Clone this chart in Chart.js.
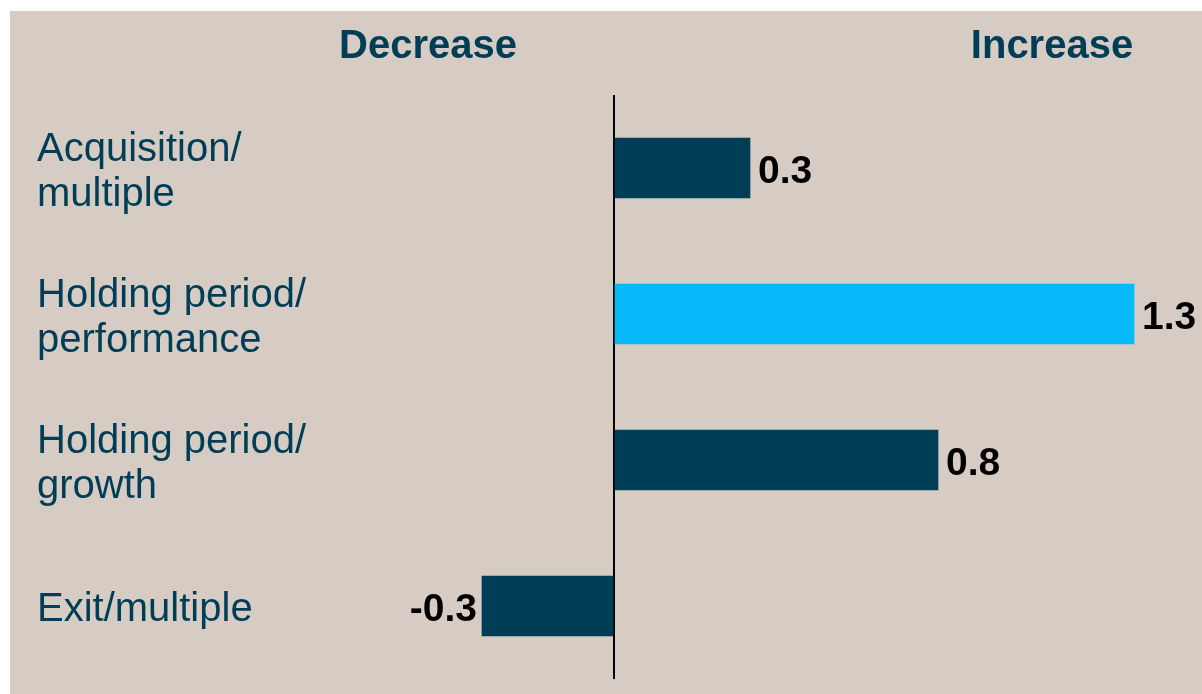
<!DOCTYPE html>
<html>
<head>
<meta charset="utf-8">
<title>Decrease / Increase</title>
<script src="https://cdn.jsdelivr.net/npm/chart.js@4"></script>
<style>
    html, body { margin: 0; padding: 0; background: #fff; }
    #bg { position: absolute; left: 10px; top: 11px; right: 0; bottom: 0; background: #d6ccc3; }
    #wrap { position: absolute; left: 0; top: 0; width: 1202px; height: 694px; }
</style>
</head>
<body>
<div id="bg"></div>
<div id="wrap"><canvas id="chart"></canvas></div>
<script>
/* global Chart */

// Data
var categories = [
    ['Acquisition/', 'multiple'],
    ['Holding period/', 'performance'],
    ['Holding period/', 'growth'],
    ['Exit/multiple']
];
var values     = [0.34, 1.30, 0.81, -0.33];
var barColors  = ['#003d56', '#08b9fa', '#003d56', '#003d56'];
var headers    = ['Decrease', 'Increase'];

(function () {
    'use strict';

    var TEAL = '#003d56';
    var FONT = '"Liberation Sans", Arial, sans-serif';

    // =========================================================
    // Labels drawn next to the axis / bars
    // =========================================================
    var labelsPlugin = {
        id: 'labels',
        afterDatasetsDraw: function (chart) {
            var c = chart.ctx;
            var y = chart.scales.y;
            var meta = chart.getDatasetMeta(0);

            c.save();
            c.textBaseline = 'alphabetic';

            // category labels, left side
            c.fillStyle = TEAL;
            c.font = '40px ' + FONT;
            c.textAlign = 'left';
            categories.forEach(function (lines, i) {
                var cy = y.getPixelForValue(i);
                lines.forEach(function (txt, j) {
                    var off = (j - (lines.length - 1) / 2) * 45;
                    c.fillText(txt, 37, cy + off + 15);
                });
            });

            // value labels at bar ends
            c.fillStyle = '#000';
            c.font = 'bold 39px ' + FONT;
            meta.data.forEach(function (bar, i) {
                var v = values[i];
                var txt = v.toFixed(1);
                if (v >= 0) {
                    c.textAlign = 'left';
                    c.fillText(txt, bar.x + 8, bar.y + 15);
                } else {
                    c.textAlign = 'right';
                    c.fillText(txt, bar.x - 5, bar.y + 15);
                }
            });

            // headers
            c.fillStyle = TEAL;
            c.font = 'bold 40px ' + FONT;
            c.textAlign = 'center';
            c.fillText(headers[0], 428, 58);
            c.fillText(headers[1], 1052, 58);
            c.restore();
        }
    };

    // =========================================================
    // Chart
    // =========================================================
    new Chart(document.getElementById('chart'), {
        type: 'bar',
        data: {
            labels: categories.map(function (l) { return l.join(' '); }),
            datasets: [{
                data:            values,
                backgroundColor: barColors,
                borderWidth:     0,
                barThickness:    60,
            }],
        },
        options: {
            indexAxis: 'y',
            responsive: true,
            maintainAspectRatio: false,
            animation: false,
            layout: { padding: { left: 214, right: 8, top: 95, bottom: 15 } },
            plugins: {
                legend:  { display: false },
                tooltip: { enabled: false },
            },
            scales: {
                x: {
                    min: -1.0,
                    max: 1.45,
                    ticks:  { display: false, stepSize: 0.5 },
                    border: { display: false },
                    grid: {
                        drawTicks: false,
                        lineWidth: 2,
                        color: function (ctx) {
                            return ctx.tick && ctx.tick.value === 0 ? '#000' : 'rgba(0,0,0,0)';
                        },
                    },
                },
                y: { display: false },
            },
        },
        plugins: [labelsPlugin],
    });
}());
</script>
</body>
</html>
